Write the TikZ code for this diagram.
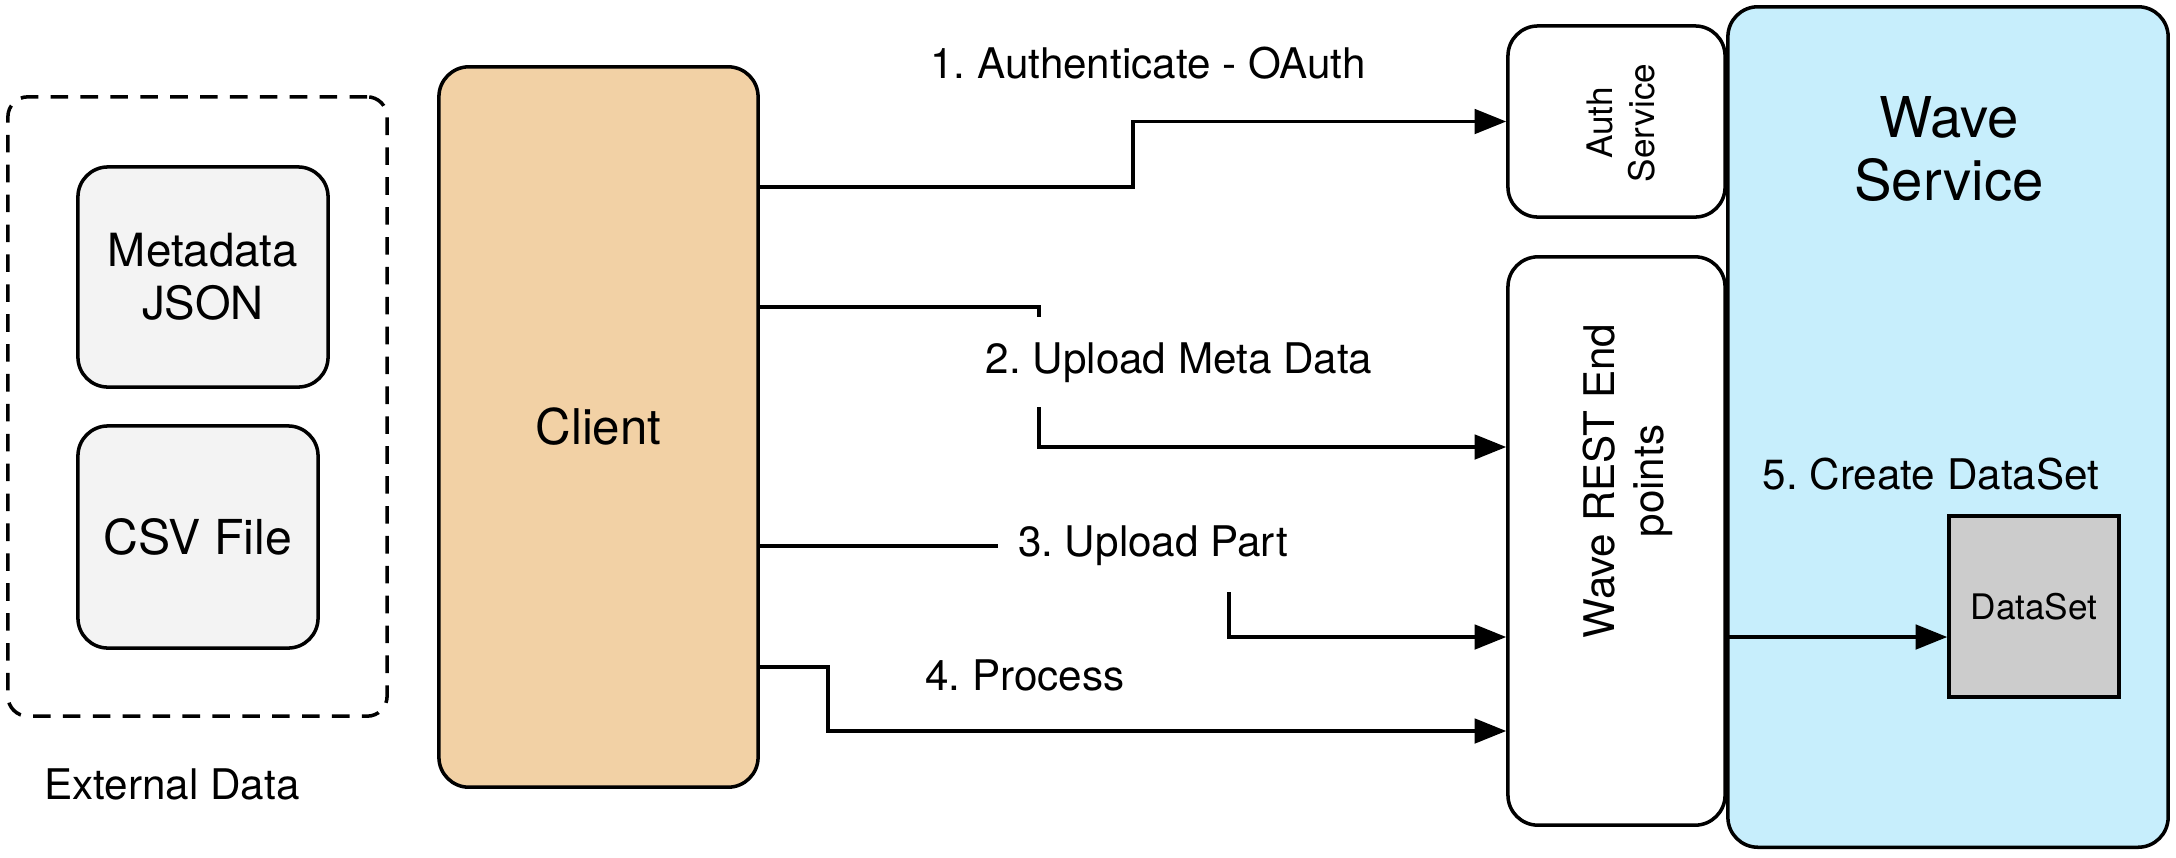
\documentclass[tikz,border=0pt]{standalone}
\usepackage{fontspec}
\setmainfont{TeX Gyre Heros}
\usetikzlibrary{arrows.meta}
\definecolor{clientfill}{HTML}{F2D1A5}
\definecolor{wavefill}{HTML}{C7EEFC}
\definecolor{filefill}{HTML}{F3F3F3}
\definecolor{setfill}{HTML}{CCCCCC}
\frenchspacing

\begin{document}
\begin{tikzpicture}[x=0.01cm,y=-0.01cm,
        box/.style={draw,line width=1pt,rounded corners=0.3cm,inner sep=0pt},
        flow/.style={line width=0.9pt,-{Triangle[length=9pt,width=7pt]}},
        wire/.style={line width=0.9pt},
        lbl/.style={inner sep=0pt,font=\fontsize{12}{14}\selectfont}]
        \useasboundingbox (0,0) rectangle (2176,857);
        %外部数据
        \node[box,dash pattern=on 5pt off 3.5pt,rounded corners=0.2cm,minimum width=3.79cm,minimum height=6.19cm] (ext) at (197.5,406.5) {};
        \node[box,fill=filefill,minimum width=2.5cm,minimum height=2.2cm,align=center,font=\fontsize{13}{15}\selectfont] (meta) at (203,277) {Metadata\\JSON};
        \node[box,fill=filefill,minimum width=2.4cm,minimum height=2.22cm,font=\fontsize{13.7}{15}\selectfont] (csv) at (198,537) {CSV File};
        \node[lbl] (extlabel) at (172,784) {External Data};
        %客户端
        \node[box,fill=clientfill,minimum width=3.19cm,minimum height=7.2cm,font=\fontsize{14}{16}\selectfont] (client) at (598.5,427) {Client};
        %服务端
        \node[box,fill=wavefill,minimum width=4.4cm,minimum height=8.4cm] (wave) at (1948,427) {};
        \node[align=center,inner sep=0pt,font=\fontsize{16}{18}\selectfont] (wavelabel) at (1949,149) {Wave\\Service};
        \node[box,fill=white,minimum width=2.17cm,minimum height=1.91cm] (auth) at (1616.5,121.5) {};
        \node[rotate=90,align=center,inner sep=0pt,font=\fontsize{10}{12}\selectfont] (authlabel) at (1621,123) {Auth\\Service};
        \node[box,fill=white,minimum width=2.17cm,minimum height=5.68cm] (rest) at (1616.5,541) {};
        \node[rotate=90,align=center,inner sep=0pt,font=\fontsize{12}{14}\selectfont] (restlabel) at (1628,481) {Wave REST End\\points};
        \node[draw,line width=1pt,fill=setfill,minimum width=1.7cm,minimum height=1.81cm,font=\fontsize{10}{12}\selectfont] (dataset) at (2034,606.5) {DataSet};
        %连线
        \coordinate (k1) at (1133,187);
        \draw[flow] (client.east |- k1) -- (k1) |- (auth.west);
        \coordinate (k2a) at (1039,307);
        \coordinate (k2b) at (1039,317);
        \coordinate (k2c) at (1039,407);
        \coordinate (k2d) at (1039,447);
        \draw[wire] (client.east |- k2a) -- (k2a) -- (k2b);
        \draw[flow] (k2c) |- (rest.west |- k2d);
        \coordinate (k3a) at (998,546);
        \coordinate (k3b) at (1229,592);
        \coordinate (k3c) at (1229,637);
        \draw[wire] (client.east |- k3a) -- (k3a);
        \draw[flow] (k3b) |- (rest.west |- k3c);
        \coordinate (k4a) at (828,667);
        \coordinate (k4b) at (828,731);
        \draw[flow] (client.east |- k4a) -- (k4a) -- (k4b) -- (rest.west |- k4b);
        \draw[flow] (rest.east |- k3c) -- (dataset.west |- k3c);
        %标注
        \node[lbl] (step1) at (1148,63) {1. Authenticate - OAuth};
        \node[lbl] (step2) at (1179,363) {2. Upload Meta Data};
        \node[lbl] (step3) at (1153,546) {3. Upload Part};
        \node[lbl] (step4) at (1025,675) {4. Process};
        \node[lbl] (step5) at (1931,474) {5. Create DataSet};
\end{tikzpicture}
\end{document}
